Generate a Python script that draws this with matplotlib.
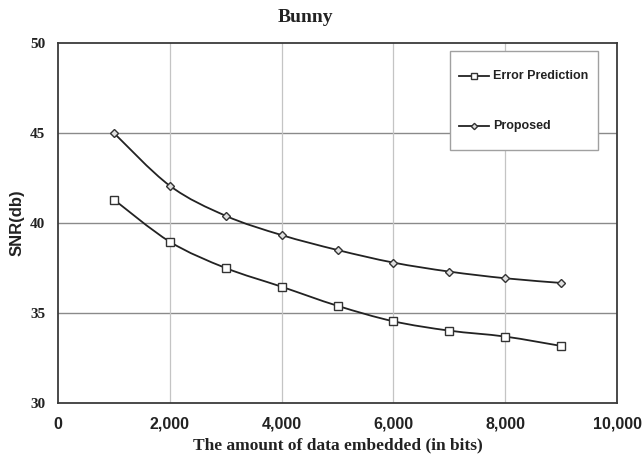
import numpy as np
import matplotlib
matplotlib.use("Agg")
import matplotlib.pyplot as plt
from matplotlib.path import Path
from matplotlib.patches import PathPatch, Rectangle
from matplotlib.lines import Line2D

# ---- data ----
bits = [1000, 2000, 3000, 4000, 5000, 6000, 7000, 8000, 9000]
error_prediction = [41.3, 38.96, 37.5, 36.46, 35.4, 34.54, 34.02, 33.69, 33.17]
proposed = [45.0, 42.07, 40.4, 39.33, 38.5, 37.8, 37.3, 36.93, 36.67]
series_names = ["Error Prediction", "Proposed"]
x_ticks = [0, 2000, 4000, 6000, 8000, 10000]
x_tick_labels = ["0", "2,000", "4,000", "6,000", "8,000", "10,000"]
y_ticks = [30, 35, 40, 45, 50]
title = "Bunny"
x_label = "The amount of data embedded (in bits)"
y_label = "SNR(db)"

SERIF = "Liberation Serif"
SANS = "Liberation Sans"

fig = plt.figure(figsize=(6.43, 4.59), dpi=100)
ax = fig.add_axes([58 / 643, 1 - 403 / 459, (617 - 58) / 643, (403 - 43) / 459])
ax.set_xlim(0, 10000)
ax.set_ylim(30, 50)


def smooth_path(xs, ys, tension=1 / 6):
    xs = np.asarray(xs, float)
    ys = np.asarray(ys, float)
    pts = np.column_stack([xs, ys])
    verts = [pts[0]]
    codes = [Path.MOVETO]
    n = len(pts)
    for i in range(n - 1):
        p0 = pts[i - 1] if i > 0 else pts[i]
        p1 = pts[i]
        p2 = pts[i + 1]
        p3 = pts[i + 2] if i + 2 < n else pts[i + 1]
        c1 = p1 + (p2 - p0) * tension
        c2 = p2 - (p3 - p1) * tension
        verts += [c1, c2, p2]
        codes += [Path.CURVE4] * 3
    return Path(verts, codes)


line_color = "#222222"
for ys in (error_prediction, proposed):
    ax.add_patch(PathPatch(smooth_path(bits, ys), facecolor="none",
                           edgecolor=line_color, lw=1.3, zorder=3))

ax.plot(bits, error_prediction, ls="none", marker="s", ms=5.2,
        mfc="white", mec="#333333", mew=1.0, zorder=4)
ax.plot(bits, proposed, ls="none", marker="D", ms=4.2,
        mfc="#e0e0e0", mec="#333333", mew=1.0, zorder=4)

# grid
for y in [35, 40, 45]:
    ax.axhline(y, color="#8a8a8a", lw=1.0, zorder=1)
for x in [2000, 4000, 6000, 8000]:
    ax.axvline(x, color="#c4c4c4", lw=0.9, zorder=1)

for s in ax.spines.values():
    s.set_color("#3a3a3a")
    s.set_linewidth(1.3)

ax.set_xticks(x_ticks)
ax.set_xticklabels(x_tick_labels, fontfamily=SANS, fontweight="bold",
                   fontsize=11.5, color="#222222")
ax.set_yticks(y_ticks)
ax.set_yticklabels([str(v) for v in y_ticks], fontfamily=SERIF,
                   fontweight="bold", fontsize=11, color="#222222")
ax.tick_params(axis="both", length=0)
ax.tick_params(axis="x", pad=10)
ax.tick_params(axis="y", pad=9)

ax.set_xlabel(x_label, fontfamily=SERIF, fontweight="bold", fontsize=12.5,
              color="#222222", labelpad=4)
ax.set_ylabel(y_label, fontfamily=SANS, fontweight="bold", fontsize=12,
              color="#222222", labelpad=4)

fig.text(305 / 643, 1 - 17 / 459, title, ha="center", va="center",
         fontfamily=SERIF, fontweight="bold", fontsize=14, color="#222222")

# ---- legend box (axes fraction) ----
lx0, lx1 = 0.702, 0.966
ly0, ly1 = 0.704, 0.977
ax.add_patch(Rectangle((lx0, ly0), lx1 - lx0, ly1 - ly0, transform=ax.transAxes,
                       facecolor="white", edgecolor="#a0a0a0", lw=1.0, zorder=5))
entry_y = [(403.3 - 76) / 360, (403.3 - 126) / 360]
hx0, hx1 = (459 - 57) / 561, (490 - 57) / 561
tx = (494 - 57) / 561
markers = [("s", 4.2, "white"), ("D", 3.2, "#e0e0e0")]
for name, yy, (m, ms, fc) in zip(series_names, entry_y, markers):
    ax.add_line(Line2D([hx0, hx1], [yy, yy], transform=ax.transAxes,
                       color=line_color, lw=1.3, zorder=6))
    ax.add_line(Line2D([(hx0 + hx1) / 2], [yy], transform=ax.transAxes,
                       ls="none", marker=m, ms=ms, mfc=fc, mec="#333333",
                       mew=1.0, zorder=7))
    ax.text(tx, yy, name, transform=ax.transAxes, ha="left", va="center",
            fontfamily=SANS, fontweight="bold", fontsize=9,
            color="#222222", zorder=7)

fig.savefig("out.png", dpi=100)
